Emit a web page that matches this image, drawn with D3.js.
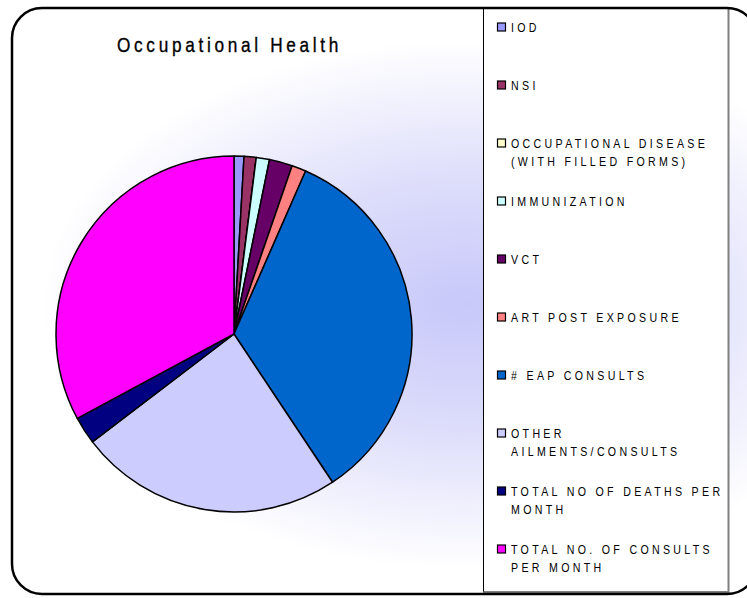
<!DOCTYPE html>
<html lang="en">

<head>
    <meta charset="UTF-8" />
    <title>Occupational Health</title>
    <script src="https://d3js.org/d3.v7.min.js"></script>
    <style>
        body {
            margin: 0;
            background: #fff;
        }

        svg {
            display: block;
        }
    </style>
</head>

<body>
    <div id="chart"></div>

    <script>
        // categories as shown in the legend (\n = line break in the legend)
        const categories = [
            "IOD",
            "NSI",
            "OCCUPATIONAL DISEASE\n(WITH FILLED FORMS)",
            "IMMUNIZATION",
            "VCT",
            "ART POST EXPOSURE",
            "# EAP CONSULTS",
            "OTHER\nAILMENTS/CONSULTS",
            "TOTAL NO OF DEATHS PER\nMONTH",
            "TOTAL NO. OF CONSULTS\nPER MONTH"
        ];
        const values = [9, 11, 0, 12, 21, 13, 341, 240, 25, 329];
        const colors = ["#9999ff", "#993366", "#ffffcc", "#ccffff", "#660066",
            "#ff8080", "#0066cc", "#ccccff", "#000080", "#ff00ff"];
        const title = "Occupational Health";

        const width = 747, height = 598;
        const font = "'Liberation Sans', Arial, sans-serif";

        const svg = d3.select("#chart").append("svg")
            .attr("width", width)
            .attr("height", height);

        // background gradient of the chart area
        const defs = svg.append("defs");
        const grad = defs.append("radialGradient")
            .attr("id", "bg")
            .attr("gradientUnits", "userSpaceOnUse")
            .attr("cx", 465).attr("cy", 305).attr("r", 265)
            .attr("gradientTransform", "translate(465,305) scale(1.6,1) translate(-465,-305)");
        grad.append("stop").attr("offset", "0%").attr("stop-color", "#c8c8fa");
        grad.append("stop").attr("offset", "45%").attr("stop-color", "#dcdcfb");
        grad.append("stop").attr("offset", "100%").attr("stop-color", "#ffffff");

        svg.append("rect")
            .attr("x", 12).attr("y", 8)
            .attr("width", 745).attr("height", 586)
            .attr("rx", 30).attr("ry", 30)
            .attr("fill", "url(#bg)");

        // title (squeezed sideways to look like the narrow original face)
        svg.append("text")
            .attr("transform", "translate(117,52) scale(0.82,1)")
            .attr("font-family", font)
            .attr("font-size", 21)
            .attr("letter-spacing", 4.5)
            .attr("fill", "#000")
            .attr("stroke", "#000")
            .attr("stroke-width", 0.35)
            .text(title);

        // pie
        const cx = 234, cy = 334, radius = 178;
        const pie = d3.pie().sort(null).value(d => d);
        const arc = d3.arc().innerRadius(0).outerRadius(radius);

        const g = svg.append("g").attr("transform", `translate(${cx},${cy})`);
        g.selectAll("path")
            .data(pie(values))
            .join("path")
            .attr("d", arc)
            .attr("fill", (d, i) => colors[i])
            .attr("stroke", "#000")
            .attr("stroke-width", 1.5)
            .attr("stroke-linejoin", "round");

        // legend box
        const lx = 483.5, ly = 8, lw = 245, lh = 584;
        svg.append("rect")
            .attr("x", lx).attr("y", ly)
            .attr("width", lw).attr("height", lh)
            .attr("fill", "#fff")
            .attr("stroke", "#000")
            .attr("stroke-width", 1);
        svg.append("path")
            .attr("d", `M${lx + lw},${ly} V${ly + lh} H${lx}`)
            .attr("fill", "none")
            .attr("stroke", "#808080")
            .attr("stroke-width", 2);

        const rowY = d3.scaleLinear().domain([0, categories.length - 1]).range([27, 549]);

        const items = svg.append("g").selectAll("g")
            .data(categories)
            .join("g")
            .attr("transform", (d, i) => `translate(497,${rowY(i)})`);

        items.append("rect")
            .attr("x", 0.5).attr("y", -4)
            .attr("width", 8).attr("height", 8)
            .attr("fill", (d, i) => colors[i])
            .attr("stroke", "#000")
            .attr("stroke-width", 1.2);

        items.append("text")
            .attr("transform", "translate(14,4.5) scale(0.85,1)")
            .attr("font-family", font)
            .attr("font-size", 12.5)
            .attr("letter-spacing", 3.9)
            .attr("fill", "#000")
            .each(function (d) {
                const t = d3.select(this);
                d.split("\n").forEach((line, k) => {
                    t.append("tspan")
                        .attr("x", 0)
                        .attr("dy", k === 0 ? 0 : 19)
                        .text(line);
                });
            });

        // outer frame
        svg.append("rect")
            .attr("x", 12).attr("y", 8)
            .attr("width", 745).attr("height", 586)
            .attr("rx", 30).attr("ry", 30)
            .attr("fill", "none")
            .attr("stroke", "#000")
            .attr("stroke-width", 2.5);
    </script>
</body>

</html>
